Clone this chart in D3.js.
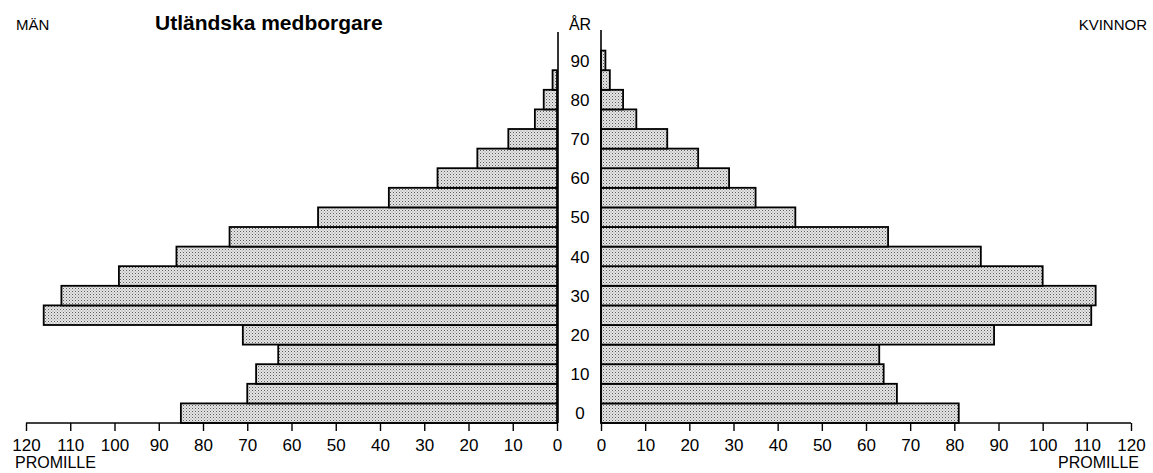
<!DOCTYPE html>
<html><head><meta charset="utf-8">
<script src="https://cdn.jsdelivr.net/npm/d3@7"></script>
<style>
html,body{margin:0;padding:0;background:#fff;}
svg{display:block;font-family:"Liberation Sans",Arial,Helvetica,sans-serif;}
</style></head>
<body>
<svg id="chart" width="1153" height="473"></svg>
<script>
const ages = ["0","5","10","15","20","25","30","35","40","45","50","55","60","65","70","75","80","85","90"];
const men = [85,70,68,63,71,116,112,99,86,74,54,38,27,18,11,5,3,1,0];
const women = [81,67,64,63,89,111,112,100,86,65,44,35,29,22,15,8,5,2,1];
const xTicks = [0,10,20,30,40,50,60,70,80,90,100,110,120];
const ageLabels = ["0","10","20","30","40","50","60","70","80","90"];

const svg = d3.select("#chart");
const defs = svg.append("defs");
const pat = defs.append("pattern").attr("id","dots").attr("patternUnits","userSpaceOnUse")
  .attr("width",3).attr("height",3);
pat.append("rect").attr("width",3).attr("height",3).attr("fill","#e6e6e6");
pat.append("rect").attr("x",0).attr("y",0).attr("width",1).attr("height",1).attr("fill","#5a5a5a");
pat.append("rect").attr("x",1.5).attr("y",1.5).attr("width",1).attr("height",1).attr("fill","#8a8a8a");

const axisY = 423;
const xL = d3.scaleLinear().domain([0,120]).range([557,26]);
const xR = d3.scaleLinear().domain([0,120]).range([601,1131]);
const y = d3.scaleBand().domain(ages).range([axisY, 50.6]).padding(0);
const bw = y.bandwidth();

// bars
svg.append("g").selectAll("rect").data(men).join("rect")
  .attr("x",(d)=>xL(d)).attr("y",(d,i)=>y(ages[i]))
  .attr("width",(d)=>xL(0)-xL(d)).attr("height",bw)
  .attr("fill","url(#dots)").attr("stroke","#000").attr("stroke-width",1.8);
svg.append("g").selectAll("rect").data(women).join("rect")
  .attr("x",xR(0)).attr("y",(d,i)=>y(ages[i]))
  .attr("width",(d)=>xR(d)-xR(0)).attr("height",bw)
  .attr("fill","url(#dots)").attr("stroke","#000").attr("stroke-width",1.8);

// vertical lines
svg.append("line").attr("x1",xL(0)+1).attr("x2",xL(0)+1).attr("y1",32).attr("y2",axisY)
  .attr("stroke","#000").attr("stroke-width",1.6);
svg.append("line").attr("x1",xR(0)).attr("x2",xR(0)).attr("y1",30).attr("y2",axisY)
  .attr("stroke","#000").attr("stroke-width",1.6);

// bottom axes
function styleAxis(g){
  g.select(".domain").remove();
  g.selectAll(".tick line").attr("stroke","#000").attr("stroke-width",1.4);
  g.selectAll(".tick text").attr("font-size",17).attr("fill","#000")
   .attr("font-family","'Liberation Sans',Arial,sans-serif").attr("dy","1.0em");
}
const gL = svg.append("g").attr("transform",`translate(0,${axisY})`)
  .call(d3.axisBottom(xL).tickValues(xTicks).tickSize(8).tickSizeOuter(0).tickPadding(3));
styleAxis(gL);
const gR = svg.append("g").attr("transform",`translate(0,${axisY})`)
  .call(d3.axisBottom(xR).tickValues(xTicks).tickSize(8).tickSizeOuter(0).tickPadding(3));
styleAxis(gR);
svg.append("line").attr("x1",xL(120)).attr("x2",xL(0)+1).attr("y1",axisY).attr("y2",axisY)
  .attr("stroke","#000").attr("stroke-width",1.4);
svg.append("line").attr("x1",xR(0)).attr("x2",xR(120)).attr("y1",axisY).attr("y2",axisY)
  .attr("stroke","#000").attr("stroke-width",1.4);

// age labels
svg.append("g").selectAll("text").data(ageLabels).join("text")
  .attr("x",580).attr("y",(d)=>y(d)+bw/2).attr("dy","0.36em")
  .attr("text-anchor","middle").attr("font-size",17).text((d)=>d);

// texts
svg.append("text").attr("x",580).attr("y",30).attr("text-anchor","middle")
  .attr("font-size",16).text("ÅR");
svg.append("text").attr("x",16).attr("y",30).attr("font-size",15).text("MÄN");
svg.append("text").attr("x",1147).attr("y",30).attr("text-anchor","end").attr("font-size",15).text("KVINNOR");
svg.append("text").attr("x",155).attr("y",30).attr("font-size",21).attr("font-weight","bold")
  .text("Utländska medborgare");
svg.append("text").attr("x",15).attr("y",468).attr("font-size",16).text("PROMILLE");
svg.append("text").attr("x",1139).attr("y",468).attr("text-anchor","end").attr("font-size",16).text("PROMILLE");
</script>
</body></html>
